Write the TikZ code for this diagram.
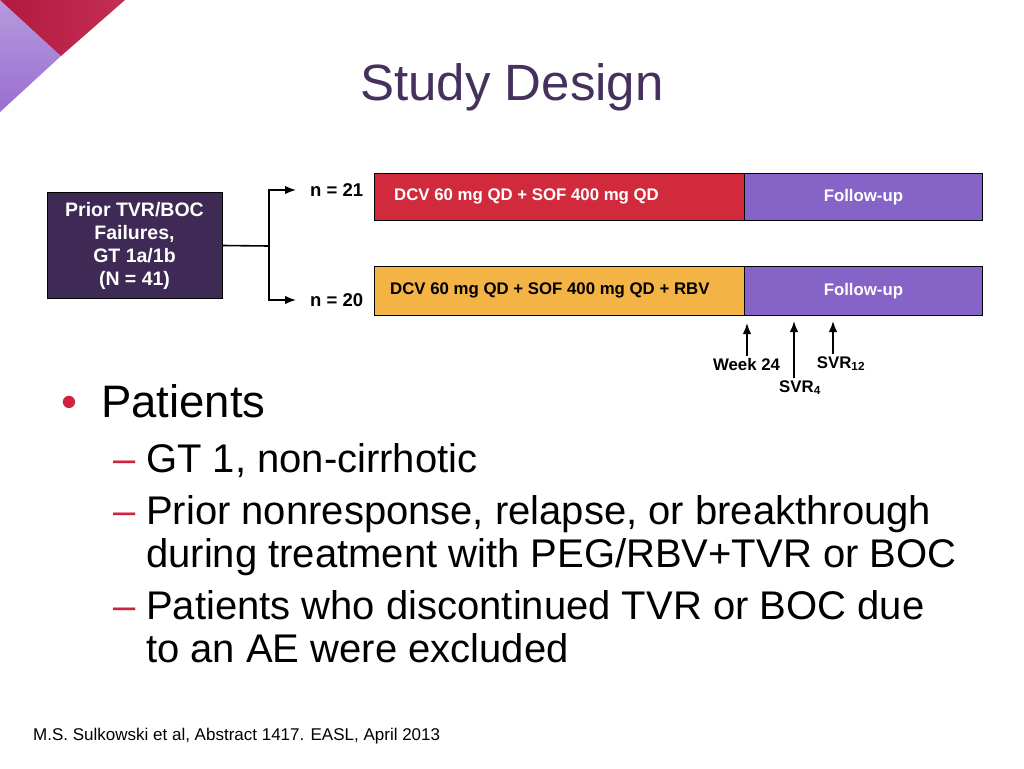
\documentclass[tikz,border=0pt]{standalone}
\usepackage{fontspec}
\setmainfont{Liberation Sans}
\usepackage{tikz}
\usetikzlibrary{arrows.meta}
\definecolor{titlepurple}{HTML}{45305E}
\definecolor{boxpurple}{HTML}{3E2A55}
\definecolor{dcvred}{HTML}{D12A3C}
\definecolor{rbvorange}{HTML}{F4B445}
\definecolor{fupurple}{HTML}{8663C6}
\definecolor{bulletred}{HTML}{CF2340}
\definecolor{cornerred}{HTML}{B3193F}
\definecolor{cornerredlight}{HTML}{C42E55}
\definecolor{cornerlilac}{HTML}{B79ADB}
\definecolor{cornerviolet}{HTML}{9A6ED3}
\newcommand{\barfont}{\fontsize{16.8}{18}\selectfont\bfseries}
\begin{document}
\begin{tikzpicture}[x=1pt,y=-1pt,
    bar/.style={draw=black, line width=0.8pt, minimum height=47pt, inner sep=0pt, anchor=north west},
    barlabel/.style={font=\barfont, inner sep=0pt, anchor=west},
    nlabel/.style={font=\fontsize{18.5}{20}\selectfont\bfseries, inner xsep=14pt, inner ysep=0pt, anchor=west},
    marklabel/.style={font=\barfont, inner sep=2pt, anchor=base},
    conn/.style={line width=1.6pt, draw=black},
    arrowline/.style={conn, -{Latex[length=11pt,width=8.5pt]}},
    bullettxt/.style={font=\fontsize{45.5}{48}\selectfont, inner sep=0pt, anchor=base west},
    subtxt/.style={font=\fontsize{40}{44}\selectfont, inner sep=0pt, anchor=base west}]
  \useasboundingbox (0,0) rectangle (1024,768);
  % corner ornament
  \shade[top color=cornerlilac, bottom color=cornerviolet] (0,0) -- (61,56) -- (0,112) -- cycle;
  \shade[left color=cornerred, right color=cornerredlight] (0,0) -- (125,0) -- (61,56) -- cycle;
  % title
  \node[font=\fontsize{51}{56}\selectfont, text=titlepurple, inner sep=0pt, anchor=base] (title) at (512,100) {Study Design};
  % study arms
  \node[draw=black, line width=0.8pt, fill=boxpurple, text=white, minimum width=175pt, minimum height=106pt,
        align=center, font=\fontsize{19.5}{23}\selectfont\bfseries] (prior) at (134.5,245.5)
        {Prior TVR/BOC\\Failures,\\GT 1a/1b\\(N = 41)};
  \node[bar, fill=dcvred, minimum width=370pt] (dcv) at (374,173) {};
  \node[bar, fill=fupurple, minimum width=238pt, text=white, font=\barfont] (fu1) at (744,173) {Follow-up};
  \node[bar, fill=rbvorange, minimum width=370pt, minimum height=49pt] (rbv) at (374,266) {};
  \node[bar, fill=fupurple, minimum width=238pt, minimum height=49pt, text=white, font=\barfont] (fu2) at (744,266) {Follow-up};
  \node[barlabel, text=white] (dcvtxt) at ([xshift=20pt]dcv.west) {DCV 60 mg QD + SOF 400 mg QD};
  \node[barlabel] (rbvtxt) at ([xshift=16pt]rbv.west) {DCV 60 mg QD + SOF 400 mg QD + RBV};
  \node[nlabel] (n21) at (296,190) {n = 21};
  \node[nlabel] (n20) at (296,300) {n = 20};
  \coordinate (fork) at (269,246);
  \draw[conn] (prior.east) -- (fork);
  \draw[arrowline] (fork) |- (n21.west);
  \draw[arrowline] (fork) |- (n20.west);
  % time points
  \node[marklabel] (wk24) at (746.5,370) {Week 24};
  \node[marklabel] (svr4) at (800,392) {SVR\textsubscript{4}};
  \node[marklabel] (svr12) at (841,368) {SVR\textsubscript{12}};
  \coordinate (t1) at (747,323);
  \coordinate (t2) at (794,321);
  \coordinate (t3) at (833,321);
  \draw[arrowline] (t1 |- wk24.north) -- (t1);
  \draw[arrowline] (t2 |- svr4.north) -- (t2);
  \draw[arrowline] (t3 |- svr12.north) -- (t3);
  % bullets
  \node[bullettxt, text=bulletred] (b1) at (61,417) {•};
  \node[bullettxt] (patients) at (101,417) {Patients};
  \node[subtxt, text=bulletred] (d1) at (113,472) {–};
  \node[subtxt] (gt) at (146,472) {GT 1, non-cirrhotic};
  \node[subtxt, text=bulletred] (d2) at (113,524) {–};
  \node[subtxt] (prior1) at (146,524) {Prior nonresponse, relapse, or breakthrough};
  \node[subtxt] (prior2) at (146,567) {during treatment with PEG/RBV+TVR or BOC};
  \node[subtxt, text=bulletred] (d3) at (113,619) {–};
  \node[subtxt] (excl1) at (146,619) {Patients who discontinued TVR or BOC due};
  \node[subtxt] (excl2) at (146,662) {to an AE were excluded};
  % reference
  \node[font=\fontsize{17}{19}\selectfont, inner sep=0pt, anchor=base west] (cite) at (33,740)
        {M.S. Sulkowski et al, Abstract 1417. EASL, April 2013};
\end{tikzpicture}
\end{document}
